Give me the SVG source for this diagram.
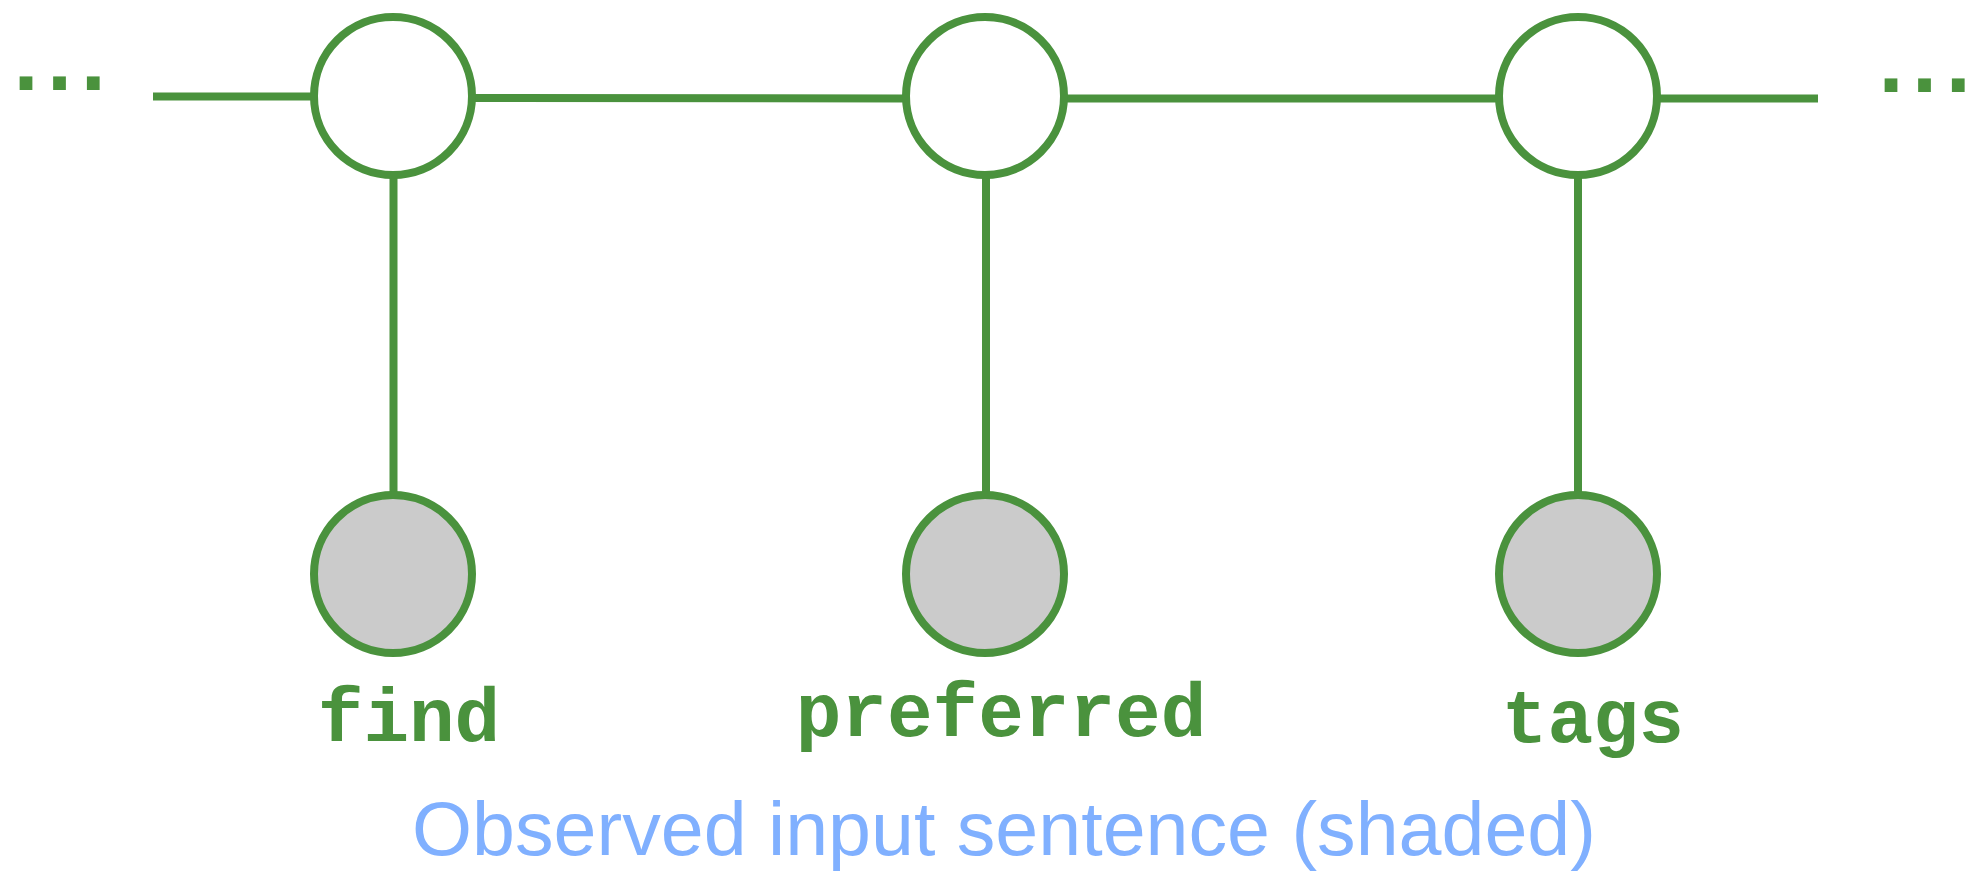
<svg xmlns="http://www.w3.org/2000/svg" width="1976" height="872" viewBox="0 0 1976 872">
  <style>
    .edge { stroke: #4a923d; stroke-width: 8; fill: none; }
    .hidden { fill: #ffffff; stroke: #4a923d; stroke-width: 8; }
    .obs { fill: #cbcbcb; stroke: #4a923d; stroke-width: 8; }
    .word { font-family: "Liberation Mono", "Courier New", monospace; font-weight: bold; font-size: 76px; fill: #4a923d; text-anchor: middle; }
    .dots { font-family: "Liberation Mono", "Courier New", monospace; font-weight: bold; font-size: 90px; letter-spacing: -20.4px; fill: #4a923d; }
    .caption { font-family: "Liberation Sans", Arial, sans-serif; font-size: 76px; fill: #80b0ff; }
  </style>
  <rect width="1976" height="872" fill="#ffffff"/>
  <g id="connectors">
    <line class="edge" x1="153" y1="96.5" x2="312" y2="96.5"/>
    <line class="edge" x1="474" y1="98" x2="904" y2="98.5"/>
    <line class="edge" x1="1066" y1="98.5" x2="1497" y2="98.5"/>
    <line class="edge" x1="1659" y1="98.5" x2="1818" y2="98.5"/>
    <line class="edge" x1="393.5" y1="171" x2="393.5" y2="492"/>
    <line class="edge" x1="986" y1="171" x2="986" y2="492"/>
    <line class="edge" x1="1578" y1="171" x2="1578" y2="492"/>
  </g>
  <g id="dots-left"><text class="dots" x="-1" y="90">...</text></g>
  <g id="dots-right"><text class="dots" x="1864" y="92">...</text></g>
  <g id="h1"><circle class="hidden" cx="393" cy="96" r="79"/></g>
  <g id="h2"><circle class="hidden" cx="985" cy="96" r="79"/></g>
  <g id="h3"><circle class="hidden" cx="1578" cy="96" r="79"/></g>
  <g id="o1"><circle class="obs" cx="393" cy="574" r="79"/><text class="word" x="409" y="741">find</text></g>
  <g id="o2"><circle class="obs" cx="985" cy="574" r="79"/><text class="word" x="1001" y="736">preferred</text></g>
  <g id="o3"><circle class="obs" cx="1578" cy="574" r="79"/><text class="word" x="1593" y="742">tags</text></g>
  <g id="caption"><text class="caption" x="412" y="855" textLength="1184" lengthAdjust="spacingAndGlyphs">Observed input sentence (shaded)</text></g>
</svg>
